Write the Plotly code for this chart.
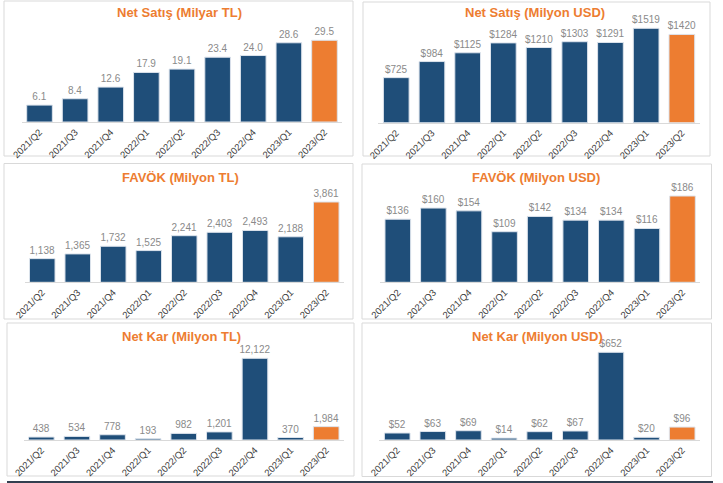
import plotly.graph_objects as go

W, H = 723, 483

quarters = ["2021/Q2", "2021/Q3", "2021/Q4", "2022/Q1", "2022/Q2",
            "2022/Q3", "2022/Q4", "2023/Q1", "2023/Q2"]

net_satis_tl = [6.1, 8.4, 12.6, 17.9, 19.1, 23.4, 24.0, 28.6, 29.5]
net_satis_usd = [725, 984, 1125, 1284, 1210, 1303, 1291, 1519, 1420]
favok_tl = [1138, 1365, 1732, 1525, 2241, 2403, 2493, 2188, 3861]
favok_usd = [136, 160, 154, 109, 142, 134, 134, 116, 186]
net_kar_tl = [438, 534, 778, 193, 982, 1201, 12122, 370, 1984]
net_kar_usd = [52, 63, 69, 14, 62, 67, 652, 20, 96]

titles = ["Net Satış (Milyar TL)", "Net Satış (Milyon USD)",
          "FAVÖK (Milyon TL)", "FAVÖK (Milyon USD)",
          "Net Kar (Milyon TL)", "Net Kar (Milyon USD)"]

NAVY = "#1F4E79"
ORANGE = "#ED7D31"

# panel layout in pixels: (x0, x1, baseline_y, tallest_bar_top_y, title_x, title_y, fmt, box)
panels = [
    (net_satis_tl, 21.7, 342.3, 122.0, 40.3, 179, 13, "%{y:.1f}", (4, 353, 1, 156)),
    (net_satis_usd, 378.4, 699.7, 122.7, 28.3, 535, 13, "$%{y:.0f}", (363, 710, 2, 156)),
    (favok_tl, 24.5, 344.0, 282.3, 202.0, 180, 177, "%{y:,.0f}", (4, 353, 163.5, 319)),
    (favok_usd, 380.0, 700.3, 282.3, 196.0, 536, 177, "$%{y:.0f}", (362, 711.5, 164, 319)),
    (net_kar_tl, 23.5, 344.0, 440.0, 358.3, 181, 336, "%{y:,.0f}", (7, 354, 323, 476)),
    (net_kar_usd, 379.4, 700.0, 440.0, 352.3, 537.5, 336, "$%{y:.0f}", (362, 711.5, 323, 476.5)),
]

fig = go.Figure()
shapes = []
annotations = []
layout_axes = {}

for i, (vals, x0, x1, yb, yt, tx, ty, fmt, box) in enumerate(panels):
    n = i + 1
    xa = "x" if n == 1 else f"x{n}"
    ya = "y" if n == 1 else f"y{n}"
    top_dom = yt - 20
    ymax = max(vals) * (yb - top_dom) / (yb - yt)
    colors = [NAVY] * (len(vals) - 1) + [ORANGE]
    fig.add_trace(go.Bar(
        x=quarters, y=vals, xaxis=xa, yaxis=ya,
        marker=dict(color=colors, line=dict(color="#DCE3EC", width=1)),
        texttemplate=fmt, textposition="outside", constraintext="none",
        textfont=dict(family="Liberation Sans, Arial, sans-serif", size=10, color="#8A8A8A"),
        cliponaxis=False, hoverinfo="skip", showlegend=False,
    ))
    layout_axes[f"xaxis{'' if n == 1 else n}"] = dict(
        domain=[x0 / W, x1 / W], anchor=ya, type="category", automargin=False,
        showline=True, linecolor="#D9D9D9", linewidth=1, ticks="",
        tickangle=-45, showgrid=False, zeroline=False, fixedrange=True,
        tickfont=dict(family="Liberation Sans, Arial, sans-serif", size=9.5, color="#404040"),
    )
    layout_axes[f"yaxis{'' if n == 1 else n}"] = dict(
        domain=[1 - yb / H, 1 - top_dom / H], anchor=xa, automargin=False,
        range=[0, ymax], visible=False, showgrid=False, zeroline=False, fixedrange=True,
    )
    annotations.append(dict(
        text=f"<b>{titles[i]}</b>", x=tx / W, y=1 - ty / H, xref="paper", yref="paper",
        xanchor="center", yanchor="middle", showarrow=False,
        font=dict(family="Liberation Sans, Arial, sans-serif", size=13, color=ORANGE),
    ))
    bx0, bx1, by0, by1 = box
    shapes.append(dict(type="rect", xref="paper", yref="paper",
                       x0=bx0 / W, x1=bx1 / W, y0=1 - by1 / H, y1=1 - by0 / H,
                       line=dict(color="#D9D9D9", width=1), layer="below"))

shapes.append(dict(type="rect", xref="paper", yref="paper",
                   x0=7 / W, x1=713 / W, y0=1 - 483 / H, y1=1 - 481 / H,
                   line=dict(width=0), fillcolor="#333F50"))

fig.update_layout(
    width=W, height=H, margin=dict(l=0, r=0, t=0, b=0, autoexpand=False),
    paper_bgcolor="white", plot_bgcolor="white",
    bargap=0.28, shapes=shapes, annotations=annotations,
    **layout_axes,
)

fig.write_html(
    "out.html",
    config={"displayModeBar": False},
    post_script="document.body.style.margin='0';document.body.style.padding='0';",
)
